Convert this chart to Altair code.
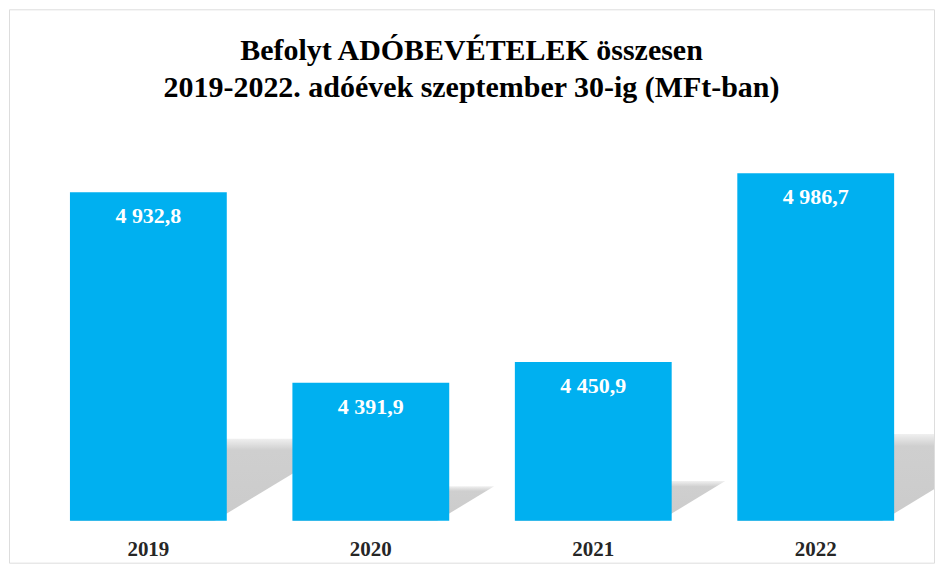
import altair as alt
import pandas as pd

# ---- data ----
years = [2019, 2020, 2021, 2022]
values = [4932.8, 4391.9, 4450.9, 4986.7]
value_labels = ["4 932,8", "4 391,9", "4 450,9", "4 986,7"]
title_lines = ["Befolyt ADÓBEVÉTELEK összesen",
               "2019-2022. adóévek szeptember 30-ig (MFt-ban)"]

# ---- layout constants ----
BASE = 4000
W, H = 926, 554
Y_DOMAIN = [3881, 5452]
STEP = 222.7            # px per band
HALF = 0.3525           # half bar width in band units
X_DOMAIN = [2018.3736, 2022.5316]
SHADOW_RATIO = 0.25     # shadow height relative to bar height
SKEW = 1.65             # horizontal skew of the shadow relative to its height
SHIFT = -12 / STEP      # small left shift of the shadow's right edge (blur look)
px_per_unit = H / (Y_DOMAIN[1] - Y_DOMAIN[0])

bars_df = pd.DataFrame({
    "year": [str(y) for y in years],
    "value": values,
    "label": value_labels,
})

rows = []
for y, v in zip(years, values):
    sh = SHADOW_RATIO * (v - BASE)
    top = BASE + sh
    s = SKEW * sh * px_per_unit / STEP
    L, R = y - HALF, y + HALF + SHIFT
    rows += [
        {"grp": "g%d" % y, "xs": float(L), "ys": float(BASE), "ys2": float(BASE)},
        {"grp": "g%d" % y, "xs": float(L + s), "ys": float(top), "ys2": float(BASE)},
        {"grp": "g%d" % y, "xs": float(R), "ys": float(top), "ys2": float(BASE)},
        {"grp": "g%d" % y, "xs": float(R + s), "ys": float(top), "ys2": float(top)},
    ]
shadow_df = pd.DataFrame(rows)

yscale = alt.Scale(domain=Y_DOMAIN, nice=False, zero=False)
xband = alt.Scale(type="band", paddingInner=0.295, paddingOuter=0.2266, align=0.6046, round=False)

shadow_fill = alt.Gradient(
    gradient="linear",
    stops=[alt.GradientStop(color="#f0f0f0", offset=0),
           alt.GradientStop(color="#cfcfcf", offset=0.14),
           alt.GradientStop(color="#cbcbcb", offset=1)],
    x1=0, x2=0, y1=0, y2=1,
)

shadow = alt.Chart(shadow_df).mark_area(color=shadow_fill, interpolate="linear",
                                        orient="vertical", clip=True).encode(
    x=alt.X("xs:Q", scale=alt.Scale(domain=X_DOMAIN, nice=False, zero=False), axis=None),
    y=alt.Y("ys:Q", scale=yscale, axis=None, stack=None),
    y2=alt.Y2("ys2:Q"),
    detail=alt.Detail("grp:N"),
)

bars = alt.Chart(bars_df).mark_bar(color="#00B0F0").encode(
    x=alt.X("year:N", scale=xband, sort=None,
            axis=alt.Axis(title=None, orient="bottom", offset=-42, domain=False, ticks=False,
                          labelFont="Liberation Serif", labelFontWeight="bold", labelFontSize=21,
                          labelColor="#262626", labelPadding=35, labelBaseline="alphabetic",
                          labelAngle=0)),
    y=alt.Y("value:Q", scale=yscale, axis=None),
    y2=alt.datum(BASE),
)

text = alt.Chart(bars_df).mark_text(
    font="Liberation Serif", fontWeight="bold", fontSize=22, color="white",
    baseline="alphabetic", dy=31,
).encode(
    x=alt.X("year:N", scale=xband, sort=None, axis=None),
    y=alt.Y("value:Q", scale=yscale, axis=None),
    text="label:N",
)

chart = alt.layer(shadow, bars, text).resolve_scale(x="independent").properties(
    width=W, height=H, padding=1,
    title=alt.TitleParams(text=title_lines, font="Liberation Serif", fontSize=30,
                          fontWeight="bold", color="#000000", anchor="middle",
                          lineHeight=37, baseline="alphabetic", offset=-118),
).configure_view(stroke="#d9d9d9", strokeWidth=2).configure(background="white")

chart.save("out.html", embed_options={"renderer": "svg", "actions": False})
